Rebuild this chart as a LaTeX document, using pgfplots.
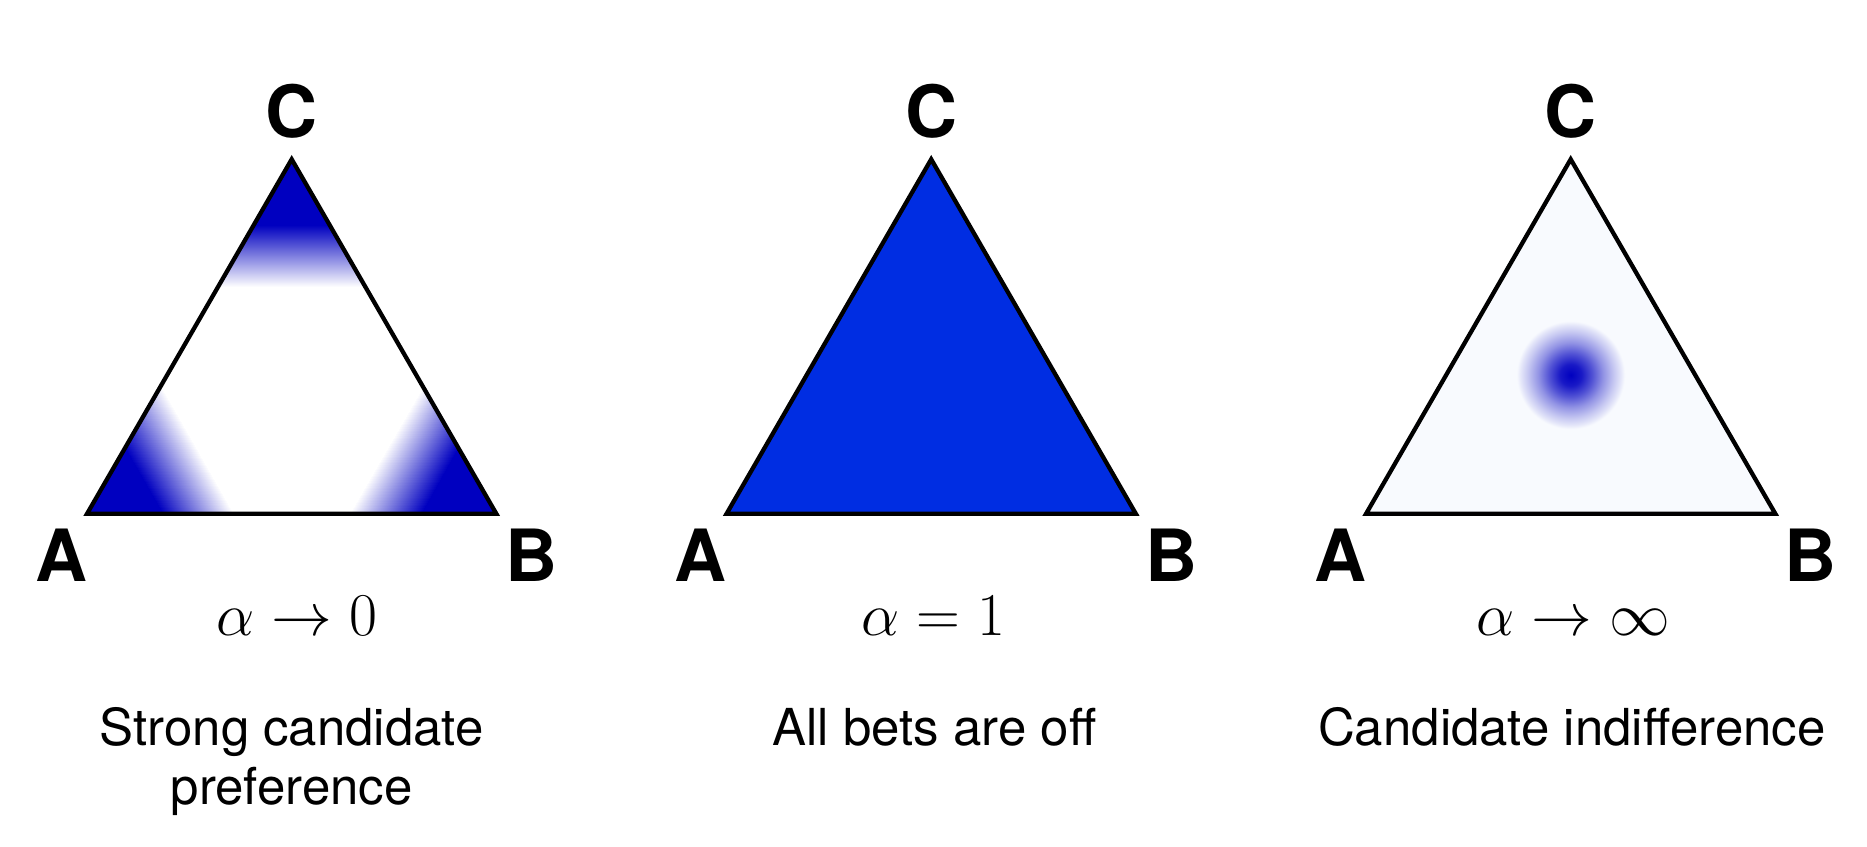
\documentclass[border=0pt]{standalone}
\usepackage[no-math]{fontspec}
\setmainfont{TeX Gyre Heros}
\usepackage{pgfplots}
\pgfplotsset{compat=1.18}
\usepgfplotslibrary{patchplots}
\definecolor{dkblue}{RGB}{0,0,192}
\definecolor{midblue}{RGB}{0,45,226}
\definecolor{bgblue}{RGB}{248,250,254}
\pgfdeclareradialshading{blob}{\pgfpoint{0bp}{0bp}}{%
  color(0bp)=(dkblue); color(4.4bp)=(dkblue!90!bgblue); color(8.8bp)=(dkblue!67!bgblue);
  color(13.2bp)=(dkblue!41!bgblue); color(17.6bp)=(dkblue!20!bgblue); color(20.4bp)=(dkblue!8!bgblue);
  color(22bp)=(bgblue); color(50bp)=(bgblue)}
\pgfplotsset{simplex/.style={scale only axis, width=4.093cm, height=3.545cm,
  xmin=0, xmax=1, ymin=0, ymax=0.866, hide axis, clip=false, anchor=south west,
  point meta min=0, point meta max=1,
  colormap={wb}{color=(white) color=(dkblue)}}}
\tikzset{
  vlab/.style={font=\fontsize{20.5}{24}\selectfont\bfseries, inner sep=0pt, anchor=center},
  alab/.style={font=\fontsize{16}{19}\selectfont, inner sep=0pt, anchor=base},
  captxt/.style={font=\fontsize{14.5}{17}\selectfont, inner sep=0pt, anchor=base}}
\begin{document}
\begin{tikzpicture}
\path (0,0) rectangle (18.67cm,8.47cm);
% ---------- panel 1 ----------
\begin{axis}[simplex, at={(0.8705cm,3.332cm)}]
\addplot[fill=white, draw=none] coordinates {(0,0) (1,0) (0.5,0.866)} -- cycle;
\addplot[patch, patch type=triangle, shader=interp, point meta=explicit]
  table[x=x, y=y, meta=c] {
x y c
0 0 1
0.185 0 1
0.0925 0.1602 1
0.185 0 1
0.0925 0.1602 1
0.36 0 0
0.0925 0.1602 1
0.36 0 0
0.18 0.3118 0
1 0 1
0.815 0 1
0.9075 0.1602 1
0.815 0 1
0.9075 0.1602 1
0.64 0 0
0.9075 0.1602 1
0.64 0 0
0.82 0.3118 0
0.5 0.866 1
0.4075 0.7058 1
0.5925 0.7058 1
0.4075 0.7058 1
0.5925 0.7058 1
0.32 0.5542 0
0.5925 0.7058 1
0.32 0.5542 0
0.68 0.5542 0
};
\addplot[draw=black, line width=1.22pt, line join=miter] coordinates {(0,0) (1,0) (0.5,0.866)} -- cycle;
\node[vlab] at (axis cs:0.5,0.984) {C};
\node[vlab] at (axis cs:-0.0628,-0.102) {A};
\node[vlab] at (axis cs:1.0865,-0.102) {B};
\node[alab] at (axis cs:0.512,-0.298) {$\alpha\to0$};
\node[captxt] at (axis cs:0.5,-0.5665) {Strong candidate};
\node[captxt] at (axis cs:0.5,-0.709) {preference};
\end{axis}
% ---------- panel 2 ----------
\begin{axis}[simplex, at={(7.2655cm,3.332cm)}]
\addplot[fill=midblue, draw=black, line width=1.22pt, line join=miter] coordinates {(0,0) (1,0) (0.5,0.866)} -- cycle;
\node[vlab] at (axis cs:0.5,0.984) {C};
\node[vlab] at (axis cs:-0.0628,-0.102) {A};
\node[vlab] at (axis cs:1.0865,-0.102) {B};
\node[alab] at (axis cs:0.506,-0.298) {$\alpha=1$};
\node[captxt] at (axis cs:0.508,-0.5665) {All bets are off};
\end{axis}
% ---------- panel 3 ----------
\begin{axis}[simplex, at={(13.6605cm,3.332cm)}]
\addplot[fill=bgblue, draw=none] coordinates {(0,0) (1,0) (0.5,0.866)} -- cycle;
\addplot[draw=none, shade, shading=blob] coordinates {(0.65,0.339) (0.6061,0.4451) (0.5,0.489) (0.3939,0.4451) (0.35,0.339) (0.3939,0.2329) (0.5,0.189) (0.6061,0.2329)} -- cycle;
\addplot[draw=black, line width=1.22pt, line join=miter] coordinates {(0,0) (1,0) (0.5,0.866)} -- cycle;
\node[vlab] at (axis cs:0.5,0.984) {C};
\node[vlab] at (axis cs:-0.0628,-0.102) {A};
\node[vlab] at (axis cs:1.0865,-0.102) {B};
\node[alab] at (axis cs:0.507,-0.298) {$\alpha\to\infty$};
\node[captxt] at (axis cs:0.503,-0.5665) {Candidate indifference};
\end{axis}
\end{tikzpicture}
\end{document}
